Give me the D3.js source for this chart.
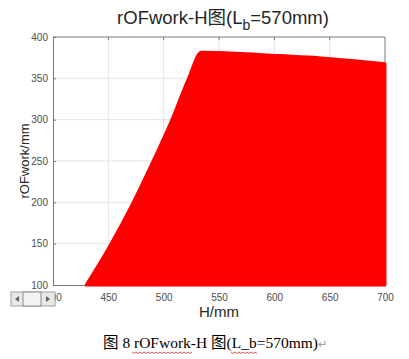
<!DOCTYPE html>
<html>
<head>
<meta charset="utf-8">
<script src="https://cdn.jsdelivr.net/npm/d3@7"></script>
<style>
  body { margin: 0; background: #fff; }
  svg { display: block; }
</style>
</head>
<body>
<div id="chart"></div>
<script>
// rOFwork-H curve for Lb = 570mm
var hValues = [430, 452.5, 472.5, 490.5, 507.5, 522.5, 534, 570, 605, 640, 670, 700];
var rValues = [100, 150, 200, 250, 300, 350, 381.5, 380, 377.5, 375, 371.5, 367.5];
var xTicks = [400, 450, 500, 550, 600, 650, 700];
var yTicks = [100, 150, 200, 250, 300, 350, 400];

var svgWidth = 409, svgHeight = 359;
var sans = "'Liberation Sans', Arial, 'Noto Sans CJK SC', sans-serif";

var svg = d3.select("#chart").append("svg")
  .attr("width", svgWidth)
  .attr("height", svgHeight);

var x = d3.scaleLinear().domain([400, 700]).range([53, 385]);
var y = d3.scaleLinear().domain([100, 400]).range([285, 37]);

// grid
svg.append("g").selectAll("line.gx")
  .data(xTicks.slice(1, -1))
  .enter().append("line")
  .attr("x1", function (d) { return x(d); })
  .attr("x2", function (d) { return x(d); })
  .attr("y1", y(100)).attr("y2", y(400))
  .attr("stroke", "#e3e3e3").attr("stroke-width", 1);

svg.append("g").selectAll("line.gy")
  .data(yTicks.slice(1, -1))
  .enter().append("line")
  .attr("x1", x(400)).attr("x2", x(700))
  .attr("y1", function (d) { return y(d); })
  .attr("y2", function (d) { return y(d); })
  .attr("stroke", "#e3e3e3").attr("stroke-width", 1);

// axes (MATLAB-style box)
var xAxis = svg.append("g")
  .attr("transform", "translate(0," + y(100) + ")")
  .call(d3.axisBottom(x).tickValues(xTicks).tickSizeInner(-3).tickSizeOuter(0).tickPadding(9));
var yAxis = svg.append("g")
  .attr("transform", "translate(" + x(400) + ",0)")
  .call(d3.axisLeft(y).tickValues(yTicks).tickSizeInner(-3).tickSizeOuter(0).tickPadding(5));

[xAxis, yAxis].forEach(function (g) {
  g.select(".domain").attr("stroke", "#7a7a7a");
  g.selectAll(".tick line").attr("stroke", "#7a7a7a");
  g.selectAll(".tick text")
    .attr("fill", "#4d4d4d")
    .style("font-family", sans)
    .style("font-size", "10px");
});

svg.append("line")
  .attr("x1", x(400)).attr("x2", x(700))
  .attr("y1", y(400)).attr("y2", y(400))
  .attr("stroke", "#7a7a7a");
svg.append("line")
  .attr("x1", x(700)).attr("x2", x(700))
  .attr("y1", y(400)).attr("y2", y(100))
  .attr("stroke", "#7a7a7a");
svg.append("g").selectAll("line.tt")
  .data(xTicks.slice(1, -1))
  .enter().append("line")
  .attr("x1", function (d) { return x(d); })
  .attr("x2", function (d) { return x(d); })
  .attr("y1", y(400)).attr("y2", y(400) + 3)
  .attr("stroke", "#7a7a7a");

// filled region
var area = d3.area()
  .x(function (d) { return x(d.h); })
  .y0(y(100))
  .y1(function (d) { return y(d.r); })
  .curve(d3.curveMonotoneX);

var pts = hValues.map(function (h, i) { return { h: h, r: rValues[i] }; });

svg.append("path")
  .datum(pts)
  .attr("d", area)
  .attr("fill", "#ff0000")
  .attr("stroke", "#ff0000")
  .attr("stroke-width", 3)
  .attr("stroke-linejoin", "round");

// title
var title = svg.append("text")
  .attr("x", 223).attr("y", 24)
  .attr("text-anchor", "middle")
  .attr("fill", "#262626")
  .style("font-family", sans)
  .style("font-size", "18.5px");
title.append("tspan").text("rOFwork-H图(L");
title.append("tspan").attr("dy", 6).style("font-size", "14px").text("b");
title.append("tspan").attr("dy", -6).text("=570mm)");

// axis labels
svg.append("text")
  .attr("x", 219).attr("y", 317)
  .attr("text-anchor", "middle")
  .attr("fill", "#262626")
  .style("font-family", sans)
  .style("font-size", "15px")
  .text("H/mm");

svg.append("text")
  .attr("transform", "translate(29,161) rotate(-90)")
  .attr("text-anchor", "middle")
  .attr("fill", "#262626")
  .style("font-family", sans)
  .style("font-size", "13px")
  .text("rOFwork/mm");

// scrollbar widget covering the corner
var sb = svg.append("g");
sb.append("rect").attr("x", 11).attr("y", 292).attr("width", 44).attr("height", 14)
  .attr("fill", "#e8e8e8").attr("stroke", "#a0a0a0");
sb.append("rect").attr("x", 23).attr("y", 292).attr("width", 18).attr("height", 14)
  .attr("fill", "#f2f2f2").attr("stroke", "#8c8c8c");
sb.append("path").attr("d", "M19,296 L15,299 L19,302 Z").attr("fill", "#606060");
sb.append("path").attr("d", "M46,296 L50,299 L46,302 Z").attr("fill", "#606060");

// caption
var cap = svg.append("text")
  .attr("x", 215).attr("y", 348)
  .attr("text-anchor", "middle")
  .attr("fill", "#000")
  .style("font-family", "'Liberation Serif', 'Times New Roman', 'Noto Sans CJK SC', serif")
  .style("font-size", "15.5px");
cap.append("tspan").text("图 8 rOFwork-H 图(L_b=570mm)");
cap.append("tspan").attr("fill", "#9a9a9a").style("font-size", "11px").text("↵");

// red spell-check squiggles
function squiggle(x0, x1, yy) {
  var d = "M" + x0 + "," + yy;
  for (var xx = x0 + 2, k = 1; xx <= x1; xx += 2, k++) {
    d += " L" + xx + "," + (yy + (k % 2 ? 1.5 : 0));
  }
  return d;
}
svg.append("path").attr("d", squiggle(132, 192, 352))
  .attr("fill", "none").attr("stroke", "#e03030").attr("stroke-width", 0.8);
svg.append("path").attr("d", squiggle(231, 257, 352))
  .attr("fill", "none").attr("stroke", "#e03030").attr("stroke-width", 0.8);
</script>
</body>
</html>
